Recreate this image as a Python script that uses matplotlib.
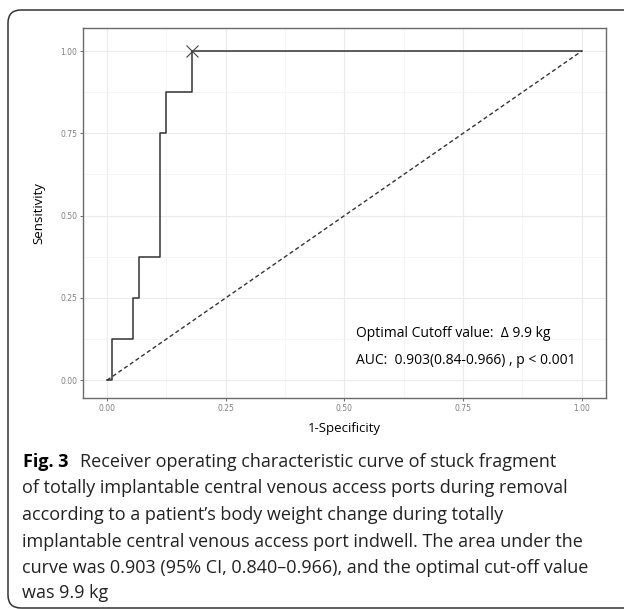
import matplotlib
matplotlib.use("Agg")
import matplotlib.pyplot as plt
from matplotlib.patches import FancyBboxPatch
from matplotlib.ticker import MultipleLocator

# ---- data ----
fpr_steps = [0.0, 0.011, 0.055, 0.067, 0.112, 0.124, 0.18, 1.0]
tpr_steps = [0.0, 0.125, 0.25, 0.375, 0.75, 0.875, 1.0, 1.0]
diag_x = [0.0, 1.0]
diag_y = [0.0, 1.0]
cutoff_point = (0.18, 1.0)
tick_values = [0.0, 0.25, 0.5, 0.75, 1.0]
tick_labels = ["0.00", "0.25", "0.50", "0.75", "1.00"]
annot_cutoff = "Optimal Cutoff value:  \u0394 9.9 kg"
annot_auc = "AUC:  0.903(0.84-0.966) , p < 0.001"
x_title = "1-Specificity"
y_title = "Sensitivity"
caption_bold = "Fig. 3"
caption_lines = [
    "Receiver operating characteristic curve of stuck fragment",
    "of totally implantable central venous access ports during removal",
    "according to a patient\u2019s body weight change during totally",
    "implantable central venous access port indwell. The area under the",
    "curve was 0.903 (95% CI, 0.840\u20130.966), and the optimal cut-off value",
    "was 9.9 kg",
]

W, H = 624, 609
fig = plt.figure(figsize=(W / 100, H / 100), dpi=100)
fig.patch.set_facecolor("white")

# outer rounded frame (in inches)
frame = FancyBboxPatch((8 / 100, 1 / 100), 7.5, (598 / 100),
                       boxstyle="round,pad=0,rounding_size=0.13",
                       transform=fig.dpi_scale_trans, fill=False,
                       edgecolor="#333333", linewidth=1.1)
fig.patches.append(frame)

# axes: left 83, right 606, top 28, bottom 398 px
ax = fig.add_axes([83 / W, 1 - 398 / H, (606 - 83) / W, (398 - 28) / H])
ax.set_xlim(-0.0506, 1.051)
ax.set_ylim(-0.054, 1.07)

ax.xaxis.set_minor_locator(MultipleLocator(0.125))
ax.yaxis.set_minor_locator(MultipleLocator(0.125))
ax.set_xticks(tick_values)
ax.set_xticklabels(tick_labels)
ax.set_yticks(tick_values)
ax.set_yticklabels(tick_labels)
ax.grid(which="major", color="#ebebeb", linewidth=0.8)
ax.grid(which="minor", color="#f4f4f4", linewidth=0.6)
ax.set_axisbelow(True)
ax.tick_params(which="major", length=2.5, width=0.6, color="#555555",
               labelsize=5.5, labelcolor="#7f7f7f", pad=1.5)
ax.tick_params(which="minor", length=0)
for s in ax.spines.values():
    s.set_color("#6a6a6a")
    s.set_linewidth(1.0)

ax.plot(fpr_steps, tpr_steps, drawstyle="steps-post", color="#333333",
        linewidth=1.1)
ax.plot(diag_x, diag_y, color="#333333", linewidth=1.0,
        linestyle=(0, (3, 2)))
ax.plot([cutoff_point[0]], [cutoff_point[1]], marker="x", markersize=9,
        markeredgewidth=0.8, color="#444444", linestyle="none")

ax.text(0.525, 0.143, annot_cutoff, fontsize=10, family="Open Sans",
        color="black", ha="left", va="center")
ax.text(0.525, 0.061, annot_auc, fontsize=10, family="Open Sans",
        color="black", ha="left", va="center")

ax.set_xlabel(x_title, fontsize=9.5, family="Open Sans", labelpad=7)
ax.set_ylabel(y_title, fontsize=9.5, family="Open Sans", labelpad=11)

# caption
line_y = [462, 488, 515, 542, 568, 593]
cap_size = 13
renderer = fig.canvas.get_renderer()
tb = fig.text(23 / W, 1 - line_y[0] / H, caption_bold, fontsize=cap_size,
              family="Open Sans", weight="bold", ha="left", va="center")
bb = tb.get_window_extent(renderer)
fig.text((bb.x1 + 11) / W, 1 - line_y[0] / H, caption_lines[0],
         fontsize=cap_size, family="Open Sans", ha="left", va="center",
         color="#222222")
for ln, yy in zip(caption_lines[1:], line_y[1:]):
    fig.text(22 / W, 1 - yy / H, ln, fontsize=cap_size, family="Open Sans",
             ha="left", va="center", color="#222222")

fig.savefig("out.png", dpi=100)
